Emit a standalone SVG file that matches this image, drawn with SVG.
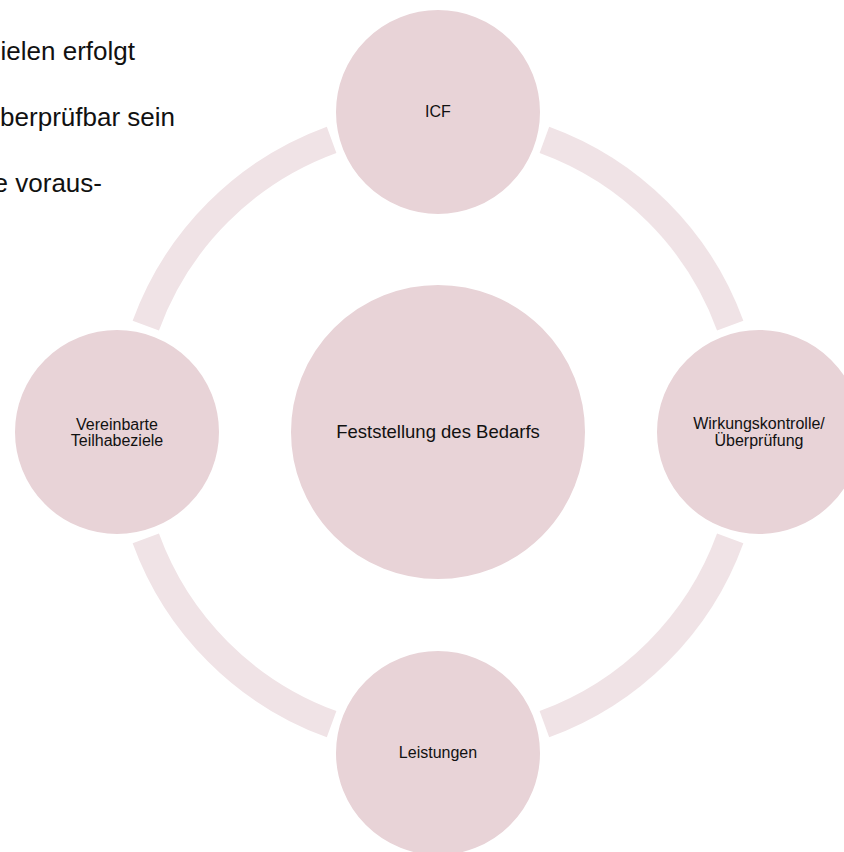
<svg xmlns="http://www.w3.org/2000/svg" width="844" height="852" viewBox="0 0 844 852">
<style>
.bg{fill:#ffffff}
.arc{fill:none;stroke:#f0e3e6;stroke-width:28;stroke-linecap:butt}
.node{fill:#e8d3d7;stroke:#ffffff;stroke-width:2}
.lbl{font-family:"Liberation Sans",Arial,sans-serif;font-size:16px;fill:#111111;text-anchor:middle}
.big{font-size:18.5px}
.side{font-family:"Liberation Sans",Arial,sans-serif;font-size:26px;fill:#111111;text-anchor:end}
</style>
<rect class="bg" x="0" y="0" width="844" height="852"/>
<g id="side-text">
<text class="side" x="135" y="60">ielen erfolgt</text>
<text class="side" x="175" y="126">berprüfbar sein</text>
<text class="side" x="102" y="192">e voraus-</text>
</g>
<g id="connectors">
<path class="arc" d="M544.4,139.8 A311,311 0 0 1 730.2,325.6"/>
<path class="arc" d="M730.2,538.4 A311,311 0 0 1 544.4,724.2"/>
<path class="arc" d="M331.6,724.2 A311,311 0 0 1 145.8,538.4"/>
<path class="arc" d="M145.8,325.6 A311,311 0 0 1 331.6,139.8"/>
</g>
<g id="center">
<circle class="node" cx="438" cy="432" r="148"/>
<text class="lbl big" x="438" y="438">Feststellung des Bedarfs</text>
</g>
<g id="icf">
<circle class="node" cx="438" cy="112" r="103"/>
<text class="lbl" x="438" y="117">ICF</text>
</g>
<g id="wirkung">
<circle class="node" cx="759" cy="432" r="103"/>
<text class="lbl" x="759" y="429">Wirkungskontrolle/</text>
<text class="lbl" x="759" y="446">Überprüfung</text>
</g>
<g id="leistungen">
<circle class="node" cx="438" cy="753" r="103"/>
<text class="lbl" x="438" y="758">Leistungen</text>
</g>
<g id="ziele">
<circle class="node" cx="117" cy="432" r="103"/>
<text class="lbl" x="117" y="430">Vereinbarte</text>
<text class="lbl" x="117" y="446">Teilhabeziele</text>
</g>
</svg>
